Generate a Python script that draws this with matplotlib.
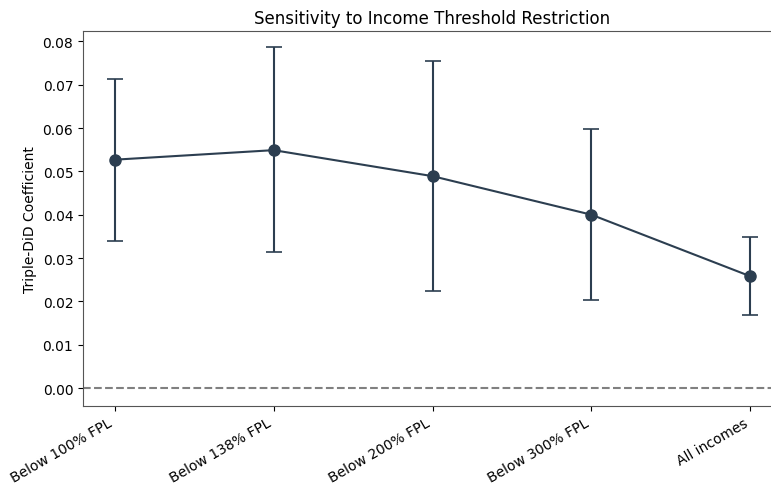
import numpy as np
import matplotlib.pyplot as plt

# income restriction sensitivity estimates
labels = ["Below 100% FPL", "Below 138% FPL", "Below 200% FPL", "Below 300% FPL", "All incomes"]
coef = [0.0527, 0.0549, 0.0489, 0.0400, 0.0258]
ci_low = [0.0340, 0.0314, 0.0224, 0.0203, 0.0168]
ci_high = [0.0714, 0.0786, 0.0755, 0.0597, 0.0349]

x = np.arange(len(labels))
coef = np.array(coef)
yerr = [coef - np.array(ci_low), np.array(ci_high) - coef]

fig = plt.figure(figsize=(7.71, 4.89), dpi=100)
ax = fig.add_axes([83 / 771, 82 / 489, 699 / 771, 375 / 489])

color = "#2c3e50"
ax.errorbar(x, coef, yerr=yerr, fmt="o-", color=color, ecolor=color,
            markersize=8, linewidth=1.5, elinewidth=1.5, capsize=6, capthick=1.2)
ax.axhline(0, color="gray", linestyle="--", linewidth=1.5)

ax.set_xlim(-0.2, 4.2)
ax.set_ylim(-0.00415, 0.0824)
ax.set_xticks(x)
ax.set_xticklabels(labels, rotation=30, ha="right", fontsize=10)
ax.tick_params(axis="y", labelsize=10)
ax.set_yticks(np.arange(0, 0.081, 0.01))
ax.yaxis.set_major_formatter(plt.FormatStrFormatter("%.2f"))
ax.set_ylabel("Triple-DiD Coefficient", fontsize=10)
ax.set_title("Sensitivity to Income Threshold Restriction", fontsize=12)

for s in ax.spines.values():
    s.set_color("#555555")
ax.spines["right"].set_visible(False)

fig.savefig("out.png", dpi=100)
